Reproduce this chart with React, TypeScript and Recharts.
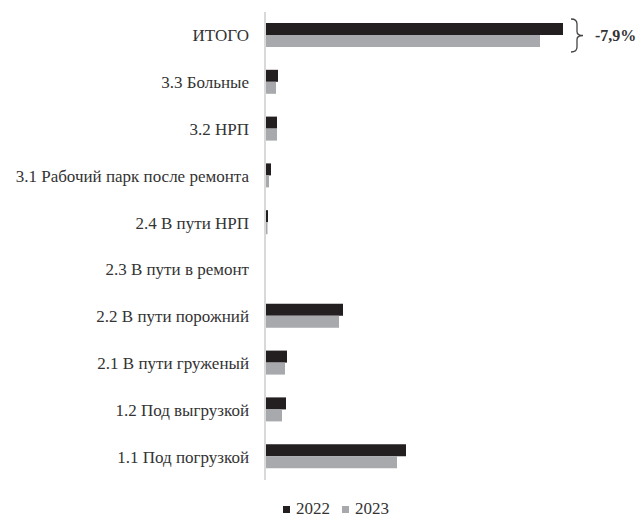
import React from "react";
import { BarChart, Bar, XAxis, YAxis, LabelList } from "recharts";

const categories = [
  "ИТОГО",
  "3.3 Больные",
  "3.2 НРП",
  "3.1 Рабочий парк после ремонта",
  "2.4 В пути НРП",
  "2.3 В пути в ремонт",
  "2.2 В пути порожний",
  "2.1 В пути груженый",
  "1.2 Под выгрузкой",
  "1.1 Под погрузкой",
];
const values2022 = [298, 13, 12, 6, 3, 0, 78, 22, 21, 141];
const values2023 = [275, 11, 12, 4, 2.5, 0, 74, 20, 17, 132];
const seriesNames = ["2022", "2023"];
const changeLabel = "-7,9%";

const COLOR_2022 = "#231f20";
const COLOR_2023 = "#a7a9ac";
const FONT = "Liberation Serif, Times New Roman, serif";

const data = categories.map((name, i) => ({
  name,
  v2022: values2022[i],
  v2023: values2023[i],
}));

const Brace = (props: any) => {
  const { x, y, width, height, index } = props;
  if (index !== 0) return null;
  const bx = Number(x) + Number(width) + 8;
  const top = Number(y) - 4;
  const bottom = Number(y) + Number(height) * 2 + 5;
  const mid = (top + bottom) / 2;
  const w = 6;
  const path = `M ${bx} ${top} Q ${bx + w} ${top} ${bx + w} ${top + 5} L ${bx + w} ${mid - 4} Q ${bx + w} ${mid} ${bx + w + 6} ${mid} Q ${bx + w} ${mid} ${bx + w} ${mid + 4} L ${bx + w} ${bottom - 5} Q ${bx + w} ${bottom} ${bx} ${bottom}`;
  return (
    <g>
      <path d={path} fill="none" stroke="#444" strokeWidth={1.3} />
      <text
        x={bx + w + 18}
        y={mid}
        dy={5}
        style={{ fontFamily: FONT, fontSize: 16, fontWeight: "bold" }}
        fill="#333"
      >
        {changeLabel}
      </text>
    </g>
  );
};

const LegendRow = () => (
  <div
    style={{
      position: "absolute",
      left: 283,
      top: 501,
      height: 16,
      display: "flex",
      alignItems: "center",
      fontFamily: FONT,
      fontSize: 17,
      color: "#333",
      lineHeight: "16px",
    }}
  >
    {seriesNames.map((n, i) => (
      <span key={n} style={{ display: "flex", alignItems: "center", marginRight: 12 }}>
        <span
          style={{
            display: "inline-block",
            width: 7,
            height: 7,
            background: i === 0 ? COLOR_2022 : COLOR_2023,
            marginRight: 6,
          }}
        />
        {n}
      </span>
    ))}
  </div>
);

export default function App() {
  return (
    <div style={{ position: "absolute", left: 0, top: 0, width: 638, height: 518, background: "#fff", fontFamily: FONT }}>
      <BarChart
        width={638}
        height={518}
        data={data}
        layout="vertical"
        margin={{ top: 12, right: 33, bottom: 38, left: 0 }}
        barGap={0}
        barCategoryGap={11}
        style={{ fontFamily: FONT }}
      >
        <XAxis type="number" domain={[0, 340]} hide />
        <YAxis
          type="category"
          dataKey="name"
          width={265}
          axisLine={{ stroke: "#d9d9d9", strokeWidth: 2 }}
          tickLine={false}
          tickSize={0}
          tickMargin={16}
          interval={0}
          tick={{ fontSize: 17, fill: "#333", style: { fontFamily: FONT } }}
        />
        <Bar dataKey="v2022" name={seriesNames[0]} fill={COLOR_2022} isAnimationActive={false}>
          <LabelList dataKey="v2022" content={<Brace />} />
        </Bar>
        <Bar dataKey="v2023" name={seriesNames[1]} fill={COLOR_2023} isAnimationActive={false} />
      </BarChart>
      <LegendRow />
    </div>
  );
}
